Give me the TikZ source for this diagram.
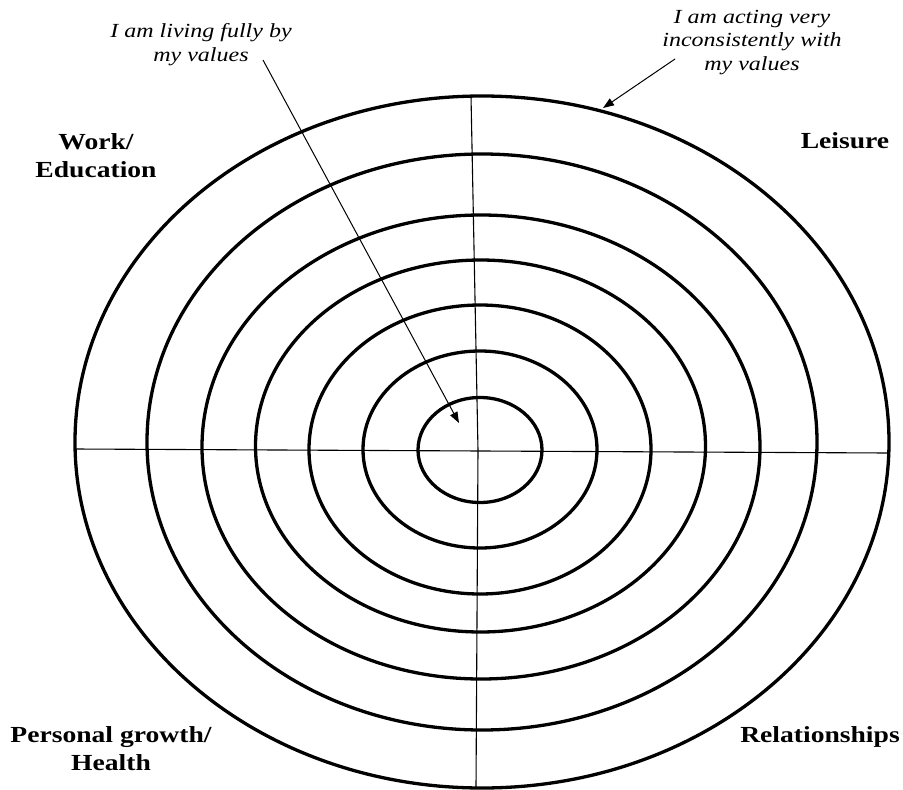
\documentclass[tikz,border=0pt]{standalone}
\usepackage{fontspec}
\setmainfont[FakeStretch=1.2]{Liberation Serif}
\usetikzlibrary{arrows.meta}
\begin{document}
\begin{tikzpicture}[x=1pt,y=-1pt,
  ring/.style={line width=3.3pt},
  axis/.style={line width=1.1pt},
  pointer/.style={line width=1pt,-{Triangle[length=11pt,width=8pt]}},
  area/.style={font=\fontsize{23}{27.5}\selectfont\bfseries,align=center,inner sep=0pt},
  note/.style={font=\fontsize{20}{23.5}\selectfont\itshape,align=center,inner sep=0pt}]
\useasboundingbox (0,0) rectangle (903,790);
% rings
\draw[ring] (482,442) ellipse [x radius=407pt, y radius=346pt];
\draw[ring] (482,442) ellipse [x radius=335pt, y radius=288pt];
\draw[ring] (481,447) ellipse [x radius=279pt, y radius=232pt];
\draw[ring] (480.5,446) ellipse [x radius=225pt, y radius=186pt];
\draw[ring] (480,449.5) ellipse [x radius=171pt, y radius=144.5pt];
\draw[ring] (480,449.5) ellipse [x radius=117pt, y radius=98.5pt];
\draw[ring] (480,450) ellipse [x radius=62pt, y radius=52.5pt];
% axes
\coordinate (vt) at (471,96);
\coordinate (vc) at (478,450);
\coordinate (vb) at (476,788);
\coordinate (hl) at (75,449);
\coordinate (hr) at (888,453);
\draw[axis] (vt) -- (vc) -- (vb);
\draw[axis] (hl) -- (hr);
% labels (anchor=base is the last line's baseline)
\node[area,anchor=base] (work) at (96,177) {Work/\\Education};
\node[area,anchor=base] (leisure) at (845,148) {Leisure};
\node[area,anchor=base] (growth) at (111,770) {Personal growth/\\Health};
\node[area,anchor=base] (rel) at (820,742) {Relationships};
\node[note,anchor=base] (full) at (201,61) {I am living fully by\\my values};
\node[note,anchor=base] (incons) at (752,70) {I am acting very\\inconsistently with\\my values};
% pointers
\coordinate (a1s) at (263,60);
\coordinate (a1e) at (459,423);
\coordinate (a2s) at (675,59);
\coordinate (a2e) at (603,108);
\draw[pointer] (a1s) -- (a1e);
\draw[pointer] (a2s) -- (a2e);
\end{tikzpicture}
\end{document}
